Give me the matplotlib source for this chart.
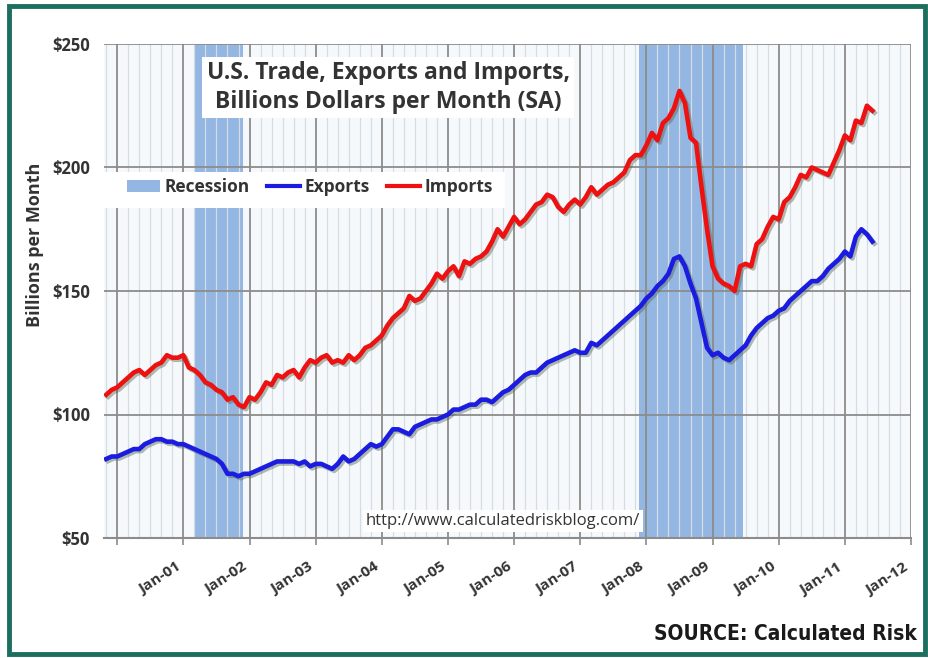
import matplotlib

matplotlib.use("Agg")
import matplotlib.pyplot as plt
import matplotlib.patheffects as pe
import numpy as np
from matplotlib.lines import Line2D
from matplotlib.patches import Patch, Rectangle

plt.rcParams["font.family"] = ["Open Sans", "DejaVu Sans"]

# monthly, seasonally adjusted, Nov 1999 .. Jun 2011 (billions $)
first_month = 1999 + 10 / 12
imports = [
    108, 110,
    111, 113, 115, 117, 118, 116, 118, 120, 121, 124, 123, 123,
    124, 119, 118, 116, 113, 112, 110, 109, 106, 107, 104, 103,
    107, 106, 109, 113, 112, 116, 115, 117, 118, 115, 119, 122,
    121, 123, 124, 121, 122, 121, 124, 122, 124, 127, 128, 130,
    132, 136, 139, 141, 143, 148, 146, 147, 150, 153, 157, 155,
    158, 160, 156, 162, 161, 163, 164, 166, 170, 175, 172, 176,
    180, 177, 179, 182, 185, 186, 189, 188, 184, 182, 185, 187,
    185, 188, 192, 189, 191, 193, 194, 196, 198, 203, 205, 205,
    209, 214, 211, 218, 220, 224, 231, 226, 212, 210, 192, 175,
    160, 155, 153, 152, 150, 160, 161, 160, 169, 171, 176, 180,
    179, 186, 188, 192, 197, 196, 200, 199, 198, 197, 202, 207,
    213, 211, 219, 218, 225, 223,
]
exports = [
    82, 83,
    83, 84, 85, 86, 86, 88, 89, 90, 90, 89, 89, 88,
    88, 87, 86, 85, 84, 83, 82, 80, 76, 76, 75, 76,
    76, 77, 78, 79, 80, 81, 81, 81, 81, 80, 81, 79,
    80, 80, 79, 78, 80, 83, 81, 82, 84, 86, 88, 87,
    88, 91, 94, 94, 93, 92, 95, 96, 97, 98, 98, 99,
    100, 102, 102, 103, 104, 104, 106, 106, 105, 107, 109, 110,
    112, 114, 116, 117, 117, 119, 121, 122, 123, 124, 125, 126,
    125, 125, 129, 128, 130, 132, 134, 136, 138, 140, 142, 144,
    147, 149, 152, 154, 157, 163, 164, 160, 153, 147, 137, 127,
    124, 125, 123, 122, 124, 126, 128, 132, 135, 137, 139, 140,
    142, 143, 146, 148, 150, 152, 154, 154, 156, 159, 161, 163,
    166, 164, 172, 175, 173, 170,
]
recessions = [(2001.16, 2001.90), (2007.89, 2009.46)]
years = list(range(2000, 2013))
year_labels = [""] + [f"Jan-{y % 100:02d}" for y in years[1:]]
y_ticks = [50, 100, 150, 200, 250]

months = first_month + np.arange(len(imports)) / 12

fig = plt.figure(figsize=(9.29, 6.58), dpi=100)
fig.patch.set_facecolor("white")
fig.patches.append(Rectangle((9 / 929, 4 / 658), 916 / 929, 648 / 658, transform=fig.transFigure,
                             fill=False, edgecolor="#1d6e5e", linewidth=3.5))

ax = fig.add_axes([104 / 929, 1 - 538 / 658, 807 / 929, 494 / 658])
ax.set_facecolor("#f6f9fc")
ax.set_xlim(1999.80, 2012.0)
ax.set_ylim(50, 250)

band_color = "#93b6e2"
for start, end in recessions:
    ax.axvspan(start, end, color=band_color, zorder=0.2, linewidth=0)

ax.set_axisbelow(True)
ax.set_xticks(years)
ax.set_xticklabels(year_labels, rotation=33, ha="right", va="top", fontsize=11,
                   fontweight="bold", color="#333333")
ax.set_xticks(np.arange(first_month, 2012, 2 / 12), minor=True)
ax.set_yticks(y_ticks)
ax.set_yticklabels([f"${v}" for v in y_ticks], fontsize=12, fontweight="bold", color="#333333")
ax.tick_params(axis="y", length=0, pad=10)
ax.tick_params(axis="x", which="major", length=5, width=1.2, color="#8c8c8c", pad=11)
ax.tick_params(axis="x", which="minor", length=0)
ax.grid(axis="x", which="minor", color="#d6dce4", linewidth=0.9)
ax.grid(axis="x", which="major", color="#8c8c8c", linewidth=1.3)
ax.grid(axis="y", which="major", color="#8c8c8c", linewidth=1.3)
for side in ("left", "right", "top"):
    ax.spines[side].set_visible(False)
ax.spines["bottom"].set_color("#8c8c8c")
ax.spines["bottom"].set_linewidth(1.5)

shadow = [pe.SimpleLineShadow(offset=(1.5, -1.5), shadow_color="#556b55", alpha=0.45), pe.Normal()]
ax.plot(months, exports, color="#1c1ce0", linewidth=3.3, solid_joinstyle="round",
        path_effects=shadow, zorder=3)
ax.plot(months, imports, color="#ee1111", linewidth=3.3, solid_joinstyle="round",
        path_effects=shadow, zorder=3)

ax.text(0.352, 0.912, "U.S. Trade, Exports and Imports,\nBillions Dollars per Month (SA)",
        transform=ax.transAxes, ha="center", va="center", fontsize=16.5, fontweight="bold",
        color="#333333", linespacing=1.3, zorder=6,
        bbox=dict(facecolor="white", edgecolor="none", pad=3))

# white strip behind the legend row
ax.add_patch(Rectangle((0, (538 - 208) / 494), 401 / 807, 36 / 494, transform=ax.transAxes,
                       facecolor="white", edgecolor="none", zorder=5))
handles = [
    Patch(facecolor=band_color, edgecolor="none"),
    Line2D([], [], color="#1c1ce0", linewidth=3),
    Line2D([], [], color="#ee1111", linewidth=3),
]
leg = ax.legend(handles, ["Recession", "Exports", "Imports"], loc="center left",
                bbox_to_anchor=(18 / 807, 0.7105), ncol=3, frameon=False, fontsize=12.5,
                handlelength=1.9, handletextpad=0.25, columnspacing=1.0, borderpad=0.3,
                borderaxespad=0)
for t in leg.get_texts():
    t.set_fontweight("bold")
    t.set_color("#333333")
leg.set_zorder(6)

ax.text(0.324, 0.034, "http://www.calculatedriskblog.com/", transform=ax.transAxes,
        ha="left", va="center", fontsize=12, color="#333333", zorder=6,
        bbox=dict(facecolor="white", edgecolor="none", pad=2))

fig.text(35 / 929, 1 - 245 / 658, "Billions per Month", rotation=90, ha="center", va="center",
         fontsize=13, fontweight="bold", color="#333333")
fig.text(917 / 929, 1 - 640 / 658, "SOURCE: Calculated Risk", ha="right", va="baseline",
         fontsize=15, fontweight="bold", fontstretch="condensed", color="#1a1a1a",
         family=["DejaVu Sans"])

fig.savefig("out.png", dpi=100)
